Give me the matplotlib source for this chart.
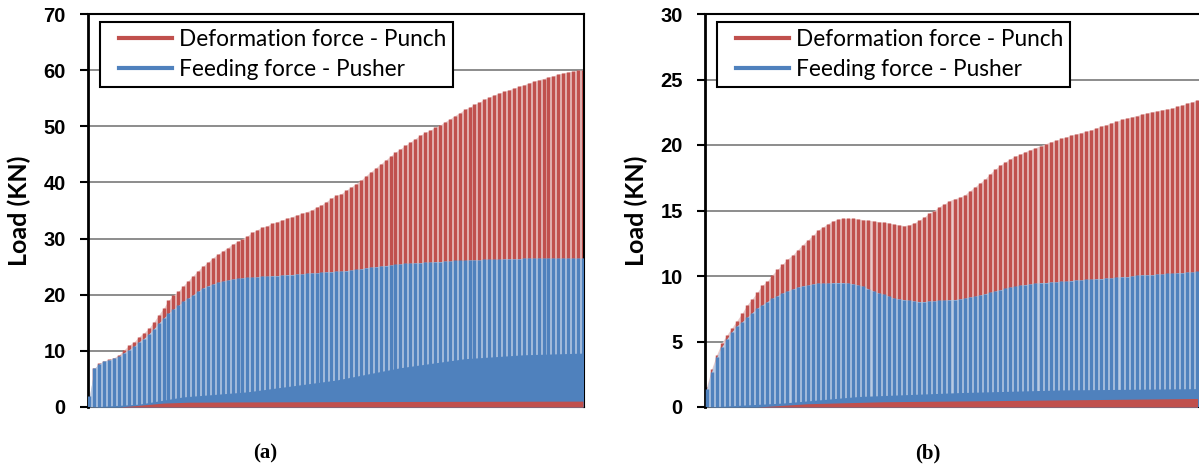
import numpy as np
import matplotlib
matplotlib.use("Agg")
import matplotlib.pyplot as plt
from matplotlib.lines import Line2D
from matplotlib.legend_handler import HandlerLine2D

# ---------------- data (peak load of each cycle, kN) ----------------
punch_a = [2.0, 6.9, 7.8, 8.2, 8.5, 8.8, 9.3, 10.2, 11.0, 11.6,
           12.5, 13.2, 14.0, 15.1, 16.4, 17.6, 19.0, 19.9, 20.6, 21.6,
           22.5, 23.4, 24.3, 25.1, 25.8, 26.6, 27.2, 27.8, 28.4, 29.0,
           29.5, 30.0, 30.5, 31.1, 31.6, 32.0, 32.3, 32.7, 33.0, 33.3,
           33.6, 33.9, 34.2, 34.5, 34.8, 35.1, 35.6, 36.0, 36.6, 37.2,
           37.7, 38.0, 38.6, 39.2, 39.8, 40.4, 41.2, 41.9, 42.6, 43.3,
           44.0, 44.7, 45.4, 46.0, 46.6, 47.2, 47.8, 48.4, 48.9, 49.3,
           49.8, 50.2, 50.8, 51.3, 51.9, 52.4, 53.0, 53.4, 53.9, 54.3,
           54.8, 55.2, 55.6, 55.9, 56.2, 56.5, 56.8, 57.1, 57.4, 57.7,
           58.0, 58.3, 58.5, 58.8, 59.0, 59.3, 59.5, 59.7, 59.8, 60.0, 60.0]
pusher_a = [2.0, 6.9, 7.7, 8.2, 8.4, 8.7, 9.0, 9.7, 10.2, 10.8,
            11.6, 12.2, 13.0, 13.9, 14.9, 15.8, 16.7, 17.4, 18.1, 18.8,
            19.4, 20.0, 20.6, 21.2, 21.6, 21.9, 22.2, 22.4, 22.6, 22.8,
            22.9, 23.0, 23.1, 23.1, 23.2, 23.3, 23.3, 23.4, 23.4, 23.5,
            23.6, 23.6, 23.7, 23.7, 23.8, 23.9, 23.9, 24.0, 24.1, 24.1,
            24.2, 24.2, 24.3, 24.4, 24.5, 24.6, 24.8, 24.9, 25.0, 25.1,
            25.2, 25.3, 25.4, 25.5, 25.6, 25.6, 25.7, 25.7, 25.8, 25.8,
            25.9, 25.9, 26.0, 26.0, 26.1, 26.1, 26.1, 26.2, 26.2, 26.2,
            26.3, 26.3, 26.3, 26.3, 26.4, 26.4, 26.4, 26.4, 26.5, 26.5,
            26.5, 26.5, 26.5, 26.5, 26.5, 26.5, 26.5, 26.5, 26.5, 26.5, 26.5]
# lower (always loaded) band of pusher signal and punch floor, coarse points
pusher_band_cycle_a = [0, 10, 19, 32, 50, 63, 76, 88, 100]
pusher_band_a = [0.0, 0.5, 1.8, 2.7, 4.8, 7.0, 8.6, 9.3, 9.6]
punch_floor_cycle_a = [0, 6, 10, 15, 20, 30, 50, 70, 100]
punch_floor_a = [0.0, 0.0, 0.3, 0.7, 0.85, 0.9, 0.95, 1.0, 1.05]

punch_b = [1.55, 2.9, 4.0, 4.9, 5.5, 6.05, 6.6, 7.15, 7.8, 8.25,
           8.75, 9.3, 9.6, 10.1, 10.5, 10.9, 11.3, 11.6, 12.0, 12.4,
           12.75, 13.1, 13.5, 13.75, 14.0, 14.2, 14.35, 14.4, 14.4, 14.4,
           14.35, 14.3, 14.25, 14.2, 14.15, 14.1, 14.05, 13.95, 13.9, 13.85,
           13.9, 14.05, 14.25, 14.5, 14.8, 15.0, 15.3, 15.5, 15.75, 15.9,
           16.0, 16.2, 16.5, 16.8, 17.1, 17.4, 17.8, 18.15, 18.45, 18.7,
           18.95, 19.15, 19.3, 19.5, 19.65, 19.8, 19.95, 20.1, 20.25, 20.35,
           20.5, 20.6, 20.75, 20.85, 20.95, 21.05, 21.15, 21.3, 21.45, 21.55,
           21.7, 21.8, 21.95, 22.05, 22.15, 22.25, 22.35, 22.45, 22.55, 22.6,
           22.7, 22.75, 22.8, 22.95, 23.05, 23.2, 23.3, 23.45]
pusher_b = [1.4, 2.7, 3.8, 4.6, 5.2, 5.75, 6.2, 6.5, 6.85, 7.2,
            7.55, 7.8, 8.05, 8.3, 8.5, 8.7, 8.85, 9.0, 9.15, 9.25,
            9.3, 9.4, 9.45, 9.45, 9.45, 9.5, 9.5, 9.5, 9.45, 9.4,
            9.3, 9.2, 9.0, 8.85, 8.7, 8.6, 8.45, 8.3, 8.25, 8.2,
            8.15, 8.1, 8.05, 8.05, 8.1, 8.1, 8.15, 8.15, 8.2, 8.2,
            8.25, 8.3, 8.4, 8.45, 8.55, 8.65, 8.75, 8.85, 8.95, 9.05,
            9.15, 9.2, 9.3, 9.35, 9.4, 9.45, 9.5, 9.5, 9.55, 9.55,
            9.6, 9.6, 9.65, 9.7, 9.7, 9.75, 9.75, 9.8, 9.8, 9.85,
            9.85, 9.9, 9.95, 9.95, 10.0, 10.05, 10.1, 10.1, 10.1, 10.15,
            10.15, 10.2, 10.2, 10.25, 10.25, 10.3, 10.3, 10.35]
pusher_band_cycle_b = [0, 15, 30, 50, 70, 97]
pusher_band_b = [0.0, 0.3, 0.8, 1.1, 1.3, 1.4]
punch_floor_cycle_b = [0, 10, 20, 35, 60, 97]
punch_floor_b = [0.0, 0.0, 0.25, 0.4, 0.5, 0.65]

yticks_a = [0, 10, 20, 30, 40, 50, 60, 70]
yticks_b = [0, 5, 10, 15, 20, 25, 30]
label_punch = "Deformation force - Punch"
label_pusher = "Feeding force - Pusher"
ylabel = "Load (KN)"
captions = ["(a)", "(b)"]

# ---------------- style ----------------
RED = "#C0504D"
BLUE = "#4F81BD"
RED_TINT = "#EBCACA"
BLUE_TINT = "#B9CBE3"
FONT = "Lato"
TICKFONT = "Liberation Sans"

fig = plt.figure(figsize=(11.99, 4.68), dpi=100)


def draw_panel(ax, punch, pusher, band_c, band_v, floor_c, floor_v,
               yticks, xlim):
    xp = np.arange(len(punch))
    xb = np.arange(len(pusher))
    ax.fill_between(xp, 0, punch, color=RED_TINT, lw=0, zorder=1)
    ax.vlines(xp, 0, punch, colors=RED, lw=2.5, zorder=2)
    ax.fill_between(xb, 0, pusher, color=BLUE_TINT, lw=0, zorder=3)
    ax.vlines(xb, 0, pusher, colors=BLUE, lw=2.5, zorder=4)
    ax.fill_between(band_c, 0, band_v, color=BLUE, lw=0, zorder=5)
    ax.fill_between(floor_c, 0, floor_v, color=RED, lw=0, zorder=6)

    ax.set_xlim(*xlim)
    ax.set_ylim(yticks[0], yticks[-1])
    ax.set_yticks(yticks)
    ax.set_xticks([])
    ax.yaxis.grid(True, color="#8C8C8C", lw=1.4)
    ax.set_axisbelow(True)
    for s in ax.spines.values():
        s.set_color("black")
        s.set_linewidth(1.5)
    ax.spines["left"].set_linewidth(2.0)
    ax.tick_params(axis="y", direction="out", length=6, width=1.5,
                   pad=10, labelsize=14.5)
    for t in ax.get_yticklabels():
        t.set_fontfamily(TICKFONT)
        t.set_fontweight("bold")
    ax.set_ylabel(ylabel, fontfamily=FONT, fontweight="bold", fontsize=18,
                  labelpad=9)
    handles = [Line2D([], [], color=RED, lw=3),
               Line2D([], [], color=BLUE, lw=3)]
    hmap = {h: HandlerLine2D(xpad=0.55) for h in handles}
    leg = ax.legend(handles, [label_punch, label_pusher], loc="upper left",
                    bbox_to_anchor=(0.024, 0.98), borderaxespad=0,
                    frameon=True, fancybox=False,
                    edgecolor="black", framealpha=1, borderpad=0.3,
                    handlelength=2.9, handletextpad=0.3, labelspacing=0.42,
                    handler_map=hmap,
                    prop={"family": FONT, "size": 16.3})
    leg.get_frame().set_linewidth(1.5)
    leg.set_zorder(10)


ax_a = fig.add_axes([88 / 1199, 61 / 468, 496 / 1199, 393 / 468])
draw_panel(ax_a, punch_a, pusher_a, pusher_band_cycle_a, pusher_band_a,
           punch_floor_cycle_a, punch_floor_a, yticks_a, (-0.3, 100.2))

ax_b = fig.add_axes([705 / 1199, 61 / 468, 496 / 1199, 393 / 468])
draw_panel(ax_b, punch_b, pusher_b, pusher_band_cycle_b, pusher_band_b,
           punch_floor_cycle_b, punch_floor_b, yticks_b, (-0.3, 97.7))

fig.text(265 / 1199, 1 - 453 / 468, captions[0], ha="center", va="center",
         fontfamily="Liberation Serif", fontweight="bold", fontsize=15)
fig.text(928 / 1199, 1 - 453 / 468, captions[1], ha="center", va="center",
         fontfamily="Liberation Serif", fontweight="bold", fontsize=15)

fig.savefig("out.png", dpi=100)
